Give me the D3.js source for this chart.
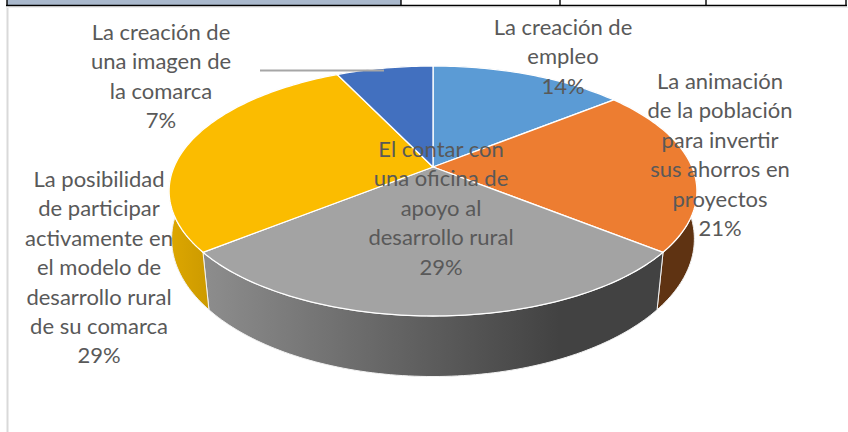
<!DOCTYPE html>
<html>
<head>
<meta charset="utf-8">
<script src="https://cdn.jsdelivr.net/npm/d3@7"></script>
<style>
html, body { margin: 0; padding: 0; background: #fff; }
svg { display: block; }
</style>
</head>
<body>
<div id="mainDiv"></div>
<script>
'use strict';

// datos del gráfico
var categorias = ['La creación de empleo', 'La animación de la población para invertir sus ahorros en proyectos', 'El contar con una oficina de apoyo al desarrollo rural', 'La posibilidad de participar activamente en el modelo de desarrollo rural de su comarca', 'La creación de una imagen de la comarca'];
var valores = [2, 3, 4, 4, 1];
var lineas = [
    ['La creación de', 'empleo'],
    ['La animación', 'de la población', 'para invertir', 'sus ahorros en', 'proyectos'],
    ['El contar con', 'una oficina de', 'apoyo al', 'desarrollo rural'],
    ['La posibilidad', 'de participar', 'activamente en', 'el modelo de', 'desarrollo rural', 'de su comarca'],
    ['La creación de', 'una imagen de', 'la comarca']
];

// aparência
var w = 848, h = 432;
var coresTopo = ['#5B9BD5', '#ED7D31', '#A3A3A3', '#FBBC00', '#4270BF'];
var coresLado = ['#3A6A96', '#5F3312', 'url(#ladoCinza)', 'url(#ladoAmarelo)', '#2A4A80'];
var corTexto = '#595959';

// onde fica cada rótulo: centro em x e primeira linha de base
var posRotulos = [
    {x: 563, y: 35},
    {x: 720, y: 89},
    {x: 441, y: 157},
    {x: 99, y: 187},
    {x: 161, y: 40}
];
var passoLinha = 29.4;

// perspectiva: face de cima e face de baixo da pizza
var faceTopo = {cx: 433, cy: 167, a: 259, b: 120.4, k: 0.192};
var faceBase = {cx: 433, cy: 217, a: 258, b: 134, k: 0.16};

function projeta(face, ang) {
    var u = Math.sin(ang), v = -Math.cos(ang);
    var d = 1 - face.k * v;
    return [face.cx + face.a * u / d, face.cy + face.b * v / d];
}

function arco(face, a0, a1) {
    var n = Math.ceil(Math.abs(a1 - a0) / 0.02);
    return d3.range(n + 1).map(function(i) {
        return projeta(face, a0 + (a1 - a0) * i / n);
    });
}

var svg = d3.select('#mainDiv').append('svg')
    .attr('width', w)
    .attr('height', h);

// gradientes das laterais
var defs = svg.append('defs');

function gradiente(id, x1, x2, paradas) {
    var g = defs.append('linearGradient')
        .attr('id', id)
        .attr('gradientUnits', 'userSpaceOnUse')
        .attr('x1', x1).attr('x2', x2)
        .attr('y1', 0).attr('y2', 0);
    g.selectAll('stop')
        .data(paradas)
        .enter()
        .append('stop')
        .attr('offset', function(d) { return d[0]; })
        .attr('stop-color', function(d) { return d[1]; });
}

gradiente('ladoCinza', 209, 658, [[0, '#8C8C8C'], [0.5, '#5C5C5C'], [0.78, '#424242'], [1, '#424242']]);
gradiente('ladoAmarelo', 172, 209, [[0, '#DCA600'], [1, '#CC9A00']]);

// moldura: linha da tabela em cima e borda do gráfico
var colunas = [7, 401, 560, 706, 846];

svg.append('rect')
    .attr('x', 7).attr('y', 0)
    .attr('width', 394).attr('height', 5)
    .attr('fill', '#A9B8CC');

svg.append('line')
    .attr('x1', 6).attr('x2', 847)
    .attr('y1', 5.5).attr('y2', 5.5)
    .attr('stroke', '#000')
    .attr('stroke-width', 1.6);

svg.selectAll('.coluna')
    .data(colunas)
    .enter()
    .append('line')
    .attr('class', 'coluna')
    .attr('x1', function(d) { return d; })
    .attr('x2', function(d) { return d; })
    .attr('y1', 0).attr('y2', 6)
    .attr('stroke', '#000')
    .attr('stroke-width', 1.4);

svg.append('line')
    .attr('x1', 7.5).attr('x2', 7.5)
    .attr('y1', 7).attr('y2', h)
    .attr('stroke', '#D9D9D9')
    .attr('stroke-width', 2);

svg.append('line')
    .attr('x1', 7).attr('x2', 848)
    .attr('y1', 7.5).attr('y2', 7.5)
    .attr('stroke', '#EDEDED')
    .attr('stroke-width', 1);

// fatias
var pie = d3.pie().sort(null);
var fatias = pie(valores);
var linha = d3.line();
var total = d3.sum(valores);
var pct = d3.format('.0%');

// laterais primeiro, a face de cima cobre o que fica atrás
svg.append('g').selectAll('path')
    .data(fatias)
    .enter()
    .append('path')
    .attr('d', function(d) {
        var pts = arco(faceTopo, d.startAngle, d.endAngle)
            .concat(arco(faceBase, d.endAngle, d.startAngle));
        return linha(pts) + 'Z';
    })
    .attr('fill', function(d, i) { return coresLado[i]; })
    .attr('stroke', '#F2F2F2')
    .attr('stroke-width', 1);

svg.append('g').selectAll('path')
    .data(fatias)
    .enter()
    .append('path')
    .attr('d', function(d) {
        var pts = [[faceTopo.cx, faceTopo.cy]].concat(arco(faceTopo, d.startAngle, d.endAngle));
        return linha(pts) + 'Z';
    })
    .attr('fill', function(d, i) { return coresTopo[i]; })
    .attr('stroke', '#fff')
    .attr('stroke-width', 1.3)
    .attr('stroke-linejoin', 'round');

// linha guia do rótulo de 7%
svg.append('line')
    .attr('x1', 260).attr('x2', 384)
    .attr('y1', 70.5).attr('y2', 70.5)
    .attr('stroke', '#A6A6A6')
    .attr('stroke-width', 2);

// rótulos
var rotulos = svg.append('g').selectAll('text')
    .data(fatias)
    .enter()
    .append('text')
    .attr('text-anchor', 'middle')
    .attr('font-family', 'Lato, "Open Sans", sans-serif')
    .attr('font-size', 22)
    .attr('fill', corTexto);

rotulos.each(function(d, i) {
    var linhas = lineas[i].concat([pct(d.value / total)]);
    d3.select(this).selectAll('tspan')
        .data(linhas)
        .enter()
        .append('tspan')
        .attr('x', posRotulos[i].x)
        .attr('y', function(t, j) { return posRotulos[i].y + j * passoLinha; })
        .text(function(t) { return t; });
});
</script>
</body>
</html>
